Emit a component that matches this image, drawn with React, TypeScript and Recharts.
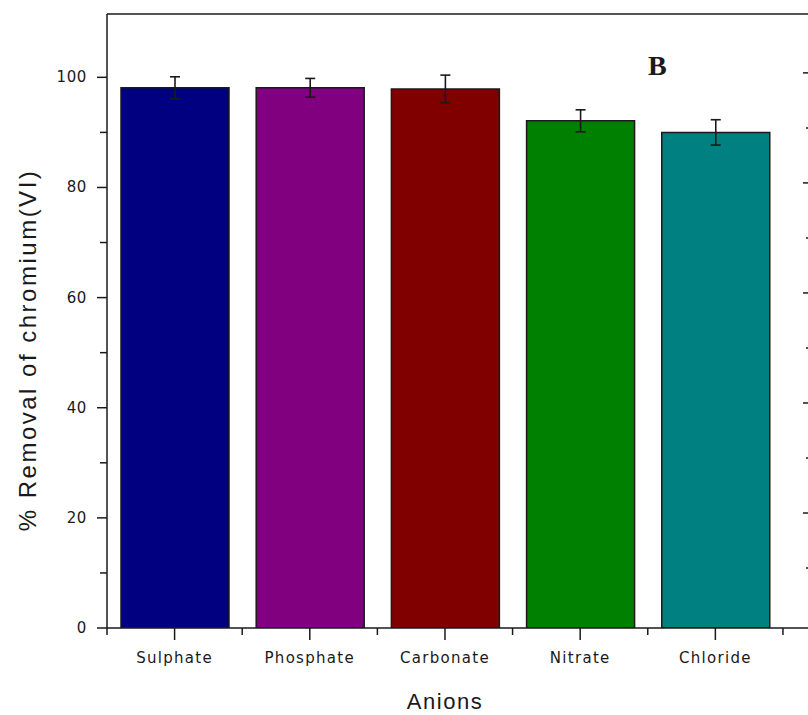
import React from 'react';
import { BarChart, Bar, XAxis, YAxis, ErrorBar, Cell, Label } from 'recharts';

// anion removal results
const anions = ['Sulphate', 'Phosphate', 'Carbonate', 'Nitrate', 'Chloride'];
const removal = [98.1, 98.1, 97.9, 92.1, 90.0];
const removalErr = [2.0, 1.7, 2.5, 2.0, 2.3];
const barColors = ['#000080', '#800080', '#800000', '#008000', '#008080'];

const leftTicks = [0, 10, 20, 30, 40, 50, 60, 70, 80, 90, 100];
const rightTicks = [10, 20, 30, 40, 50, 60, 70, 80, 90, 100];

// bars sit at the middle of each unit slot, slot edges get the small ticks
const data = anions.map((name, i) => ({ pos: i + 0.5, name, removal: removal[i], err: removalErr[i] }));
const xTicks: number[] = [];
anions.forEach((_, i) => { xTicks.push(i, i + 0.5); });
xTicks.push(anions.length);

const ink = '#1a1a1a';
const tickFont = { fontFamily: '"DejaVu Sans", sans-serif', fontSize: 15, fill: ink };

const BottomTick = (props: any) => {
  const { x, y, payload } = props;
  const v = payload.value;
  const mid = v % 1 !== 0;
  return (
    <g>
      <line x1={x} x2={x} y1={y} y2={y + (mid ? 12 : 7)} stroke={ink} strokeWidth={1.5} />
      {mid && (
        <text x={x} y={y + 35} textAnchor="middle" letterSpacing={1.3} {...tickFont}>
          {anions[Math.floor(v)]}
        </text>
      )}
    </g>
  );
};

const LeftTick = (props: any) => {
  const { x, y, payload } = props;
  const major = payload.value % 20 === 0;
  return (
    <g>
      <line x1={x - (major ? 10 : 7)} x2={x} y1={y} y2={y} stroke={ink} strokeWidth={1.5} />
      {major && (
        <text x={x - 20} y={y + 5} textAnchor="end" letterSpacing={0.6} {...tickFont}>
          {payload.value}
        </text>
      )}
    </g>
  );
};

const RightTick = (props: any) => {
  const { x, y, payload } = props;
  const major = payload.value % 20 === 0;
  return <line x1={x - (major ? 7 : 4)} x2={x} y1={y} y2={y} stroke={ink} strokeWidth={1.5} />;
};

const YTitle = (props: any) => {
  const { x, y, height } = props.viewBox;
  const cx = x + 27;
  const cy = y + height / 2 + 29;
  return (
    <text x={cx} y={cy} transform={`rotate(-90, ${cx}, ${cy})`} textAnchor="middle" dominantBaseline="central"
      fontFamily='"Liberation Sans", Arial, sans-serif' fontSize={24} letterSpacing={2.5} fill={ink}>
      % Removal of chromium(VI)
    </text>
  );
};

const XTitle = (props: any) => {
  const { x, y } = props.viewBox;
  return (
    <text x={x + 338} y={y + 81} textAnchor="middle" fontFamily='"Liberation Sans", Arial, sans-serif'
      fontSize={22} letterSpacing={1.5} fill={ink}>
      Anions
    </text>
  );
};

const App = () => {
  return (
    <div style={{ position: 'fixed', left: 0, top: 0, width: 808, height: 715, overflow: 'hidden', background: '#fff' }}>
      <BarChart width={830} height={715} data={data} margin={{ top: 12, right: 0, bottom: 0, left: 0 }}>
        <XAxis dataKey="pos" type="number" domain={[0, 5.2]} ticks={xTicks} interval={0} height={87}
          tickSize={0} tickMargin={0} tickLine={false} tick={<BottomTick />} stroke={ink} strokeWidth={1.5}
          allowDataOverflow>
          <Label content={<XTitle />} />
        </XAxis>
        <XAxis xAxisId="top" orientation="top" dataKey="pos" type="number" domain={[0, 5.2]} height={2}
          ticks={[]} tick={false} tickLine={false} stroke={ink} strokeWidth={1.5} allowDataOverflow />
        <YAxis domain={[0, 111.5]} ticks={leftTicks} interval={0} width={107} tickSize={0} tickMargin={0}
          tickLine={false} tick={<LeftTick />} stroke={ink} strokeWidth={1.5} allowDataOverflow>
          <Label content={<YTitle />} />
        </YAxis>
        <YAxis yAxisId="right" orientation="right" domain={[-0.9, 110.7]} ticks={rightTicks} interval={0}
          width={20} tickSize={0} tickMargin={0} tickLine={false} tick={<RightTick />} stroke={ink}
          strokeWidth={1.5} allowDataOverflow />
        <Bar dataKey="removal" barSize={108} stroke={ink} strokeWidth={1.5} isAnimationActive={false}>
          {data.map((d, i) => (
            <Cell key={d.name} fill={barColors[i]} />
          ))}
          <ErrorBar dataKey="err" width={5} stroke={ink} strokeWidth={1.6} isAnimationActive={false} />
        </Bar>
      </BarChart>
      <div style={{ position: 'absolute', left: 648, top: 52, fontFamily: '"Liberation Serif", "DejaVu Serif", serif',
        fontWeight: 'bold', fontSize: 28, lineHeight: 1, color: ink }}>
        B
      </div>
    </div>
  );
};

export default App;
